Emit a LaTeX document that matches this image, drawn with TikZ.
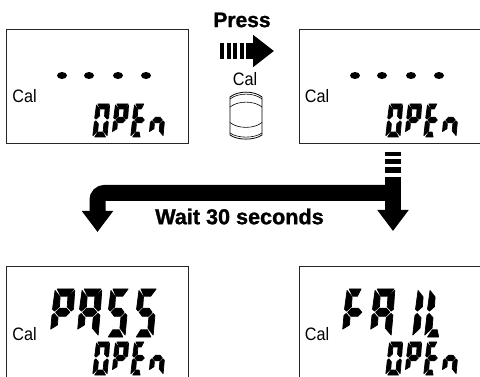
\documentclass[tikz,border=0pt]{standalone}
\usepackage{fontspec}
\setmainfont{Liberation Sans}
\newfontfamily\calfont[FakeStretch=0.9]{Liberation Sans}
\newfontfamily\heavyfont{Liberation Sans}[BoldFeatures={FakeBold=1.2}]
\usetikzlibrary{arrows.meta}

% segments of one lcd character, 10 wide and 20 high
\tikzset{
  sega/.style={insert path={(1.4,20) -- (9.4,20) -- (6.9,17) -- (3.3,17) -- cycle}},
  segb/.style={insert path={(9.8,19.4) -- (10,11.6) -- (9,10.8) -- (6.9,12.6) -- (6.8,16.7) -- cycle}},
  segc/.style={insert path={(10,0.8) -- (10,9) -- (9,9.8) -- (6.9,8) -- (6.9,3.7) -- cycle}},
  segd/.style={insert path={(1.2,0) -- (8.9,0) -- (6.7,3) -- (3.2,3) -- cycle}},
  sege/.style={insert path={(-0.2,0.8) -- (0,9) -- (1,9.8) -- (3,8) -- (3,3.7) -- cycle}},
  segf/.style={insert path={(0.4,19.4) -- (0,11.6) -- (1,10.8) -- (3.2,12.6) -- (3.1,16.7) -- cycle}},
  segg/.style={insert path={(1.6,10.3) -- (3.4,12) -- (6.6,12) -- (8.4,10.3) -- (6.6,8.6) -- (3.4,8.6) -- cycle}},
  % short and narrow variants
  segh/.style={insert path={(0,3.3) -- (0,9) -- (1,9.8) -- (3,8) -- (3,5) -- cycle}},
  segk/.style={insert path={(1.2,0) -- (6.5,0) -- (5.5,3) -- (3.2,3) -- cycle}},
  segm/.style={insert path={(1.4,20) -- (7,20) -- (5.6,17) -- (3.3,17) -- cycle}},
  lcdbox/.style={draw=black!85, line width=0.9pt, anchor=north west, minimum width=182pt, minimum height=114pt, inner sep=0pt},
  lcdlabel/.style={font=\calfont\fontsize{18}{18}\selectfont, inner sep=0pt},
  lcdread/.style={text opacity=0, font=\bfseries\fontsize{24}{24}\selectfont, inner sep=0pt},
  boldlabel/.style={font=\heavyfont\bfseries\fontsize{21}{22}\selectfont, inner sep=0pt},
  bigarrow/.style={line width=16pt, -{Triangle[width=30pt,length=21pt]}},
  pressarrow/.style={line width=16pt, -{Triangle[width=31pt,length=21pt]}}
}

\newcommand{\lcdchar}[5]{%
  \begin{scope}[shift={(#1,#2)},x={(#3*0.1pt,0pt)},y={(#4*0.0045pt,#4*0.05pt)}]
    \foreach \s in {#5} \filldraw[line width=0.7pt, line join=round, seg\s];
  \end{scope}
}
% the OPEn line, from its lower left corner
\newcommand{\lcdopen}[2]{%
  \lcdchar{#1}{#2}{14}{33}{a,b,c,d,e,f}
  \lcdchar{#1+19}{#2}{14}{33}{a,b,h,f,g}
  \lcdchar{#1+38}{#2}{14}{33}{m,k,e,f,g}
  \lcdchar{#1+56}{#2}{14}{33}{c,h,g}
}

\begin{document}
\begin{tikzpicture}[x=1pt,y=-1pt]
    \clip (0,0) rectangle (480,377);

    \node[lcdbox] (box1) at (6,29) {};
    \node[lcdbox] (box2) at (299,29) {};
    \node[lcdbox] (box3) at (6,266) {};
    \node[lcdbox] (box4) at (299,266) {};

    \node[lcdlabel] (cal1) at (24.5,96) {Cal};
    \node[lcdlabel] (cal2) at (317,96) {Cal};
    \node[lcdlabel] (cal3) at (24.5,334) {Cal};
    \node[lcdlabel] (cal4) at (317,334) {Cal};

    % dots
    \foreach \x in {62,89,118,146} \fill (\x,75.5) ellipse (5 and 3.5);
    \foreach \x in {355,382,411,439} \fill (\x,75.5) ellipse (5 and 3.5);

    % lcd readings
    \lcdopen{93}{137}
    \lcdopen{386}{137}
    \lcdopen{93}{375}
    \lcdopen{386}{375}
    \node[lcdread] (read1) at (130,120) {OPEn};
    \node[lcdread] (read2) at (423,120) {OPEn};
    \node[lcdread] (read3) at (130,358) {OPEn};
    \node[lcdread] (read4) at (423,358) {OPEn};

    \lcdchar{50}{337}{21}{48}{a,b,h,f,g}
    \lcdchar{77}{337}{21}{48}{a,b,c,h,f,g}
    \lcdchar{106}{337}{19}{48}{a,c,d,f,g}
    \lcdchar{134}{337}{19}{48}{a,c,d,f,g}
    \node[lcdread] (result1) at (94,313) {PASS};

    \lcdchar{342}{337}{21}{48}{m,h,f,g}
    \lcdchar{370}{337}{21}{48}{a,b,c,h,f,g}
    \lcdchar{413}{337}{21}{48}{e,f}
    \lcdchar{425}{337}{21}{48}{k,e,f}
    \node[lcdread] (result2) at (385,313) {FAIL};

    % press step
    \node[boldlabel] (press) at (242,20) {Press};
    \coordinate (pressdash) at (220,51);
    \coordinate (pressstart) at (245.5,51);
    \coordinate (pressend) at (274,51);
    \draw[line width=16pt, dash pattern=on 4pt off 2.5pt on 4pt off 2.5pt on 4pt off 2.5pt on 4pt off 2.5pt] (pressdash) -- (pressstart);
    \draw[pressarrow] (pressstart) -- (pressend);

    \node[lcdlabel] (calkey) at (245,79) {Cal};
    \draw[line width=0.8pt, line join=round] (230,97) .. controls (238,90.5) and (254,90.5) .. (262,97)
        -- (262,135) .. controls (254,140.5) and (238,140.5) .. (230,135) -- cycle;
    \draw[line width=0.6pt] (230,99) .. controls (238,92.5) and (254,92.5) .. (262,99);
    \draw[line width=0.6pt] (230,133) .. controls (238,138.5) and (254,138.5) .. (262,133);
    \draw[line width=0.6pt] (230,107) .. controls (238,100.5) and (254,100.5) .. (262,107);
    \draw[line width=0.6pt] (230,122.5) .. controls (238,129) and (254,129) .. (262,122.5);

    % wait step
    \coordinate (forkdash) at (393,152);
    \coordinate (fork) at (393,177);
    \coordinate (forkmid) at (393,193);
    \coordinate (passend) at (97.5,232);
    \coordinate (failend) at (393,231);
    \draw[line width=16pt, dash pattern=on 4pt off 3pt on 5pt off 3pt on 6pt off 4pt] (forkdash) -- (fork);
    \draw[bigarrow] (fork) -- (failend);
    \draw[bigarrow, rounded corners=7pt] (forkmid) -| (passend);
    \node[boldlabel, font=\heavyfont\bfseries\fontsize{21.6}{22}\selectfont] (wait) at (239.5,216.5) {Wait 30 seconds};
\end{tikzpicture}
\end{document}
